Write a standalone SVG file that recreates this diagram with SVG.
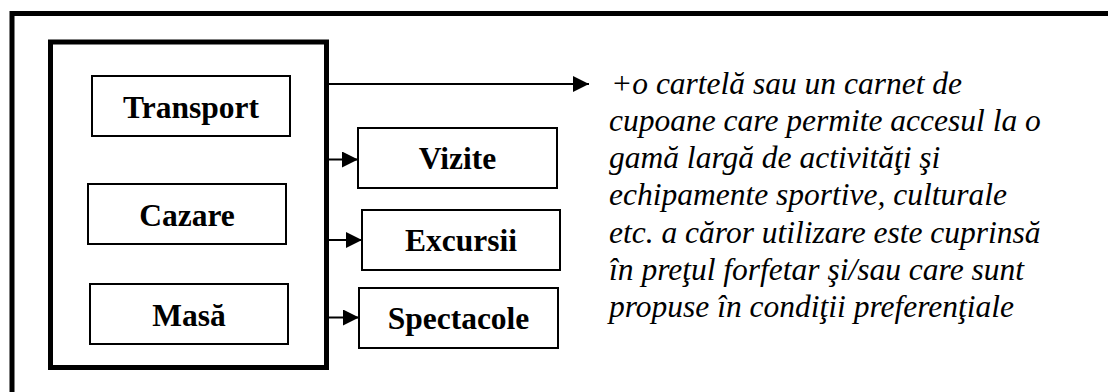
<svg xmlns="http://www.w3.org/2000/svg" width="1108" height="392" viewBox="0 0 1108 392">
<style>
.box{fill:#fff;stroke:#000;stroke-width:2}
.lbl{font-family:'Liberation Serif',Tinos,'Times New Roman',Times,'DejaVu Serif',serif;font-weight:bold;font-size:31.5px;fill:#000;text-anchor:middle}
.note{font-family:'Liberation Serif',Tinos,'Times New Roman',Times,'DejaVu Serif',serif;font-style:italic;font-size:31.5px;fill:#000}
.con{stroke:#000;stroke-width:2;fill:none;marker-end:url(#ah)}
</style>
<defs>
<marker id="ah" markerUnits="userSpaceOnUse" markerWidth="16" markerHeight="16" viewBox="0 0 15 15" refX="15" refY="7.5" orient="auto">
<path d="M0,0 L15,7.5 L0,15 Z" fill="#000"/>
</marker>
</defs>
<rect width="1108" height="392" fill="#fff"/>
<g id="frame">
<path d="M12,392 V13.5 H1108" fill="none" stroke="#000" stroke-width="5"/>
</g>
<g id="package">
<rect x="50.5" y="42" width="276" height="325.5" fill="none" stroke="#000" stroke-width="5"/>
</g>
<g id="transport"><rect class="box" x="92" y="76" width="198" height="60"/><text class="lbl" x="191" y="117.5">Transport</text></g>
<g id="cazare"><rect class="box" x="88" y="184" width="198" height="60"/><text class="lbl" x="187" y="225.5">Cazare</text></g>
<g id="masa"><rect class="box" x="90" y="284" width="198" height="60"/><text class="lbl" x="189" y="325.5">Masă</text></g>
<g id="vizite"><rect class="box" x="358" y="128" width="199" height="60"/><text class="lbl" x="457.5" y="168.5">Vizite</text></g>
<g id="excursii"><rect class="box" x="362" y="210" width="198" height="60"/><text class="lbl" x="461" y="250.5">Excursii</text></g>
<g id="spectacole"><rect class="box" x="359" y="288" width="199" height="60"/><text class="lbl" x="458.5" y="328.5">Spectacole</text></g>
<g id="connectors">
<path class="con" d="M329,84 H589"/>
<path class="con" d="M329,159.5 H358"/>
<path class="con" d="M329,240 H362"/>
<path class="con" d="M329,317.5 H359"/>
</g>
<g id="note">
<text class="note" x="611" y="94">+o cartelă sau un carnet de</text>
<text class="note" x="609" y="131">cupoane care permite accesul la o</text>
<text class="note" x="609" y="168">gamă largă de activităţi şi</text>
<text class="note" x="609" y="205">echipamente sportive, culturale</text>
<text class="note" x="609" y="242.5">etc. a căror utilizare este cuprinsă</text>
<text class="note" x="609" y="279.5">în preţul forfetar şi/sau care sunt</text>
<text class="note" x="609" y="316.5">propuse în condiţii preferenţiale</text>
</g>
</svg>
